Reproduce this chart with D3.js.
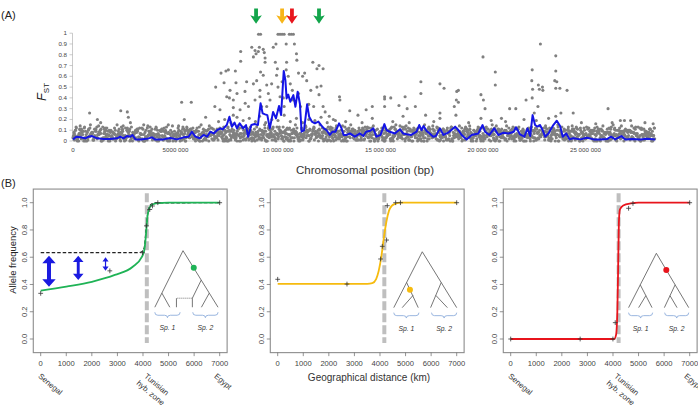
<!DOCTYPE html>
<html><head><meta charset="utf-8">
<script src="https://cdn.jsdelivr.net/npm/d3@7"></script>
<style>
body{margin:0;background:#fff}
svg{display:block}
text{font-family:"Liberation Sans",Arial,sans-serif}
</style>
</head><body>
<svg id="c" width="698" height="409"></svg>
<script>
// ================= DATA =================
// ---- Panel A ----
const chromTicks = [0, 5, 10, 15, 20, 25]; // Mb
const chromTickLabels = ["0", "5000 000", "10 000 000", "15 000 000", "20 000 000", "25 000 000"];
const fstTicks = [0, 0.1, 0.2, 0.3, 0.4, 0.5, 0.6, 0.7, 0.8, 0.9, 1];
const fstTickLabels = ["0", "0.1", "0.2", "0.3", "0.4", "0.5", "0.6", "0.7", "0.8", "0.9", "1"];

// dense background band of SNP Fst values (hundredths, hex digit per 0.1 Mb window)
const bandRowA = "3517290846 1938274605 7261943850 2847103695 6039182745 1748206359 9305714862 4682039157 0571839264 8213947560 5940261738 3168502974 7429018653 2053876419 6817349025 9134702586 4706158392 0382964715 5827013496 1695837240 7241560983 3958240617 8062471359 4513896072 2790314685 6347908152 0184725936 9528163047 4872059631";
const bandRowB = "5a2b8041c7 396a1b5082 c47093a615 8b2603c947 1a5b930286 7c014a8b53 2938a60c14 b57029a381 6c4a1b8025 93a70c5b16 4829b03a7c 152c806b94 a3071b58c2 6490a3b718 5c2b906a43 8a157c0b29 36b4a0c812 7095b3a6c1 48a2c07b53 91b6038ac4 2c75a19b06 3a84b2c519 06c7a3b248 9b15c06a72 4a39b8201c 7c52a6b093 18b4c0a765 2a93b71c48 6b05c2a913";
const bandRowC = "8d5e9c6af7 b4e7d9c5a8 6fb8e5c9d7 a9c6f4e8b5 d7a5c8f6e9 5e9b7d4ac8 c6f8a5e7b9 9b4d8c6fa5 e7c5a9d8b6 6a8f5e4c9d b9d7c6a8f4 4c6e9b5d7a f8a4d7c6e9 7e5b8f9a4c a7d9c5e6b8 5c8a6d4f9e d6e4b9a7c5 8f7c5e6d9a b5a9d8c4e7 6d8e7a5b9c c9b5f6e8a4 9e6a4c7d5b 7a4d9b8e6c e8c6a5f4d9 5b9e8d6c7a d4a7c9b5e8 8c6f5a7e9b a9e8d4c6b5 6b5c7e9a8d";
const bandRowD = "1305620471 4260173542 0637214056 3172045613 6024517302 2516043720 4071356214 1736205437 5042716301 2651037426 7204153062 0463527140 3517602435 6120473516 1754032607 4036215743 2671405312 5302764105 0415236740 7243150624 3560712043 1027456320 6345012576 4712630451 2054376102 5631207436 0726143502 3147520617 6502341075";
const bandRowE = "4a07b29358 1b6803a924 7295b04a18 3a06b81952 b4291a7036 0857b3a942 a16029b574 38b5a01962 9047ab2318 5b3906a147 2a847b0395 0719a53b68 b38264a019 4605b9a271 1a9738b042 8306a15b97 5b2914a608 a07b5392a4 3918a06b25 7b4a2059a1 0a68b3194b 9257a04b13 64b0a92857 1830b7a592 a57196b034 2b9a0583a7 7014b6a29a 4a82053b19 8365a0b142";
const bandRowF = "7c4a9d3b68 5d8b3c6a92 a47d5c9b36 8b3c6a5d74 c69b4d8a35 3a7d9c6b48 9d5b3a7c68 6c8a4d9b53 b3d7c5a86d 4a9c6b8d37 d58a3c7b96 7b4d9a6c35 5c9b7d3a86 a6d4c8b95a 3b8d6c9a47 c7a5b3d86a 8d3c9a6b57 6a9d7b4c83 b4c8d5a69c 9c6b3a8d54 5d7a9c4b86 a8c5d6b39a 4b9d3c7a68 c5a8b6d94b 7d3b9c5a86 3c8a6d9b47 b6d5a3c98a 8a4c7d5b69 5b9c4a8d36";

// higher Fst SNPs [Mb, Fst]
const outliers = [
 [0.81,0.26],[1.19,0.2],[1.35,0.17],[2.33,0.28],[2.65,0.27],[2.7,0.22],[2.8,0.17],[5.3,0.36],[5.43,0.2],[5.77,0.36],
 [6.47,0.22],[6.96,0.5],[7.22,0.63],[7.46,0.65],[7.58,0.66],[7.37,0.54],[7.66,0.47],[7.5,0.41],[7.63,0.4],[7.82,0.38],
 [7.82,0.31],[7.92,0.65],[7.95,0.54],[8.0,0.44],[8.18,0.74],[8.18,0.83],[8.39,0.46],[8.47,0.55],[8.72,0.87],[8.8,0.78],
 [8.88,0.84],[8.93,0.81],[9.04,0.83],[9.09,0.87],[9.28,0.85],[9.33,0.82],[9.37,0.77],[9.37,0.73],[9.15,0.64],[9.28,0.61],
 [8.8,0.53],[8.96,0.56],[9.12,0.47],[9.12,0.41],[8.88,0.38],[9.45,0.52],[9.53,0.44],[9.69,0.53],[9.77,0.87],[9.9,0.9],
 [9.87,0.73],[9.97,0.67],[9.93,0.61],[10.0,0.5],[10.1,0.41],[10.2,0.55],[10.4,0.9],[10.42,0.73],[10.4,0.66],[10.5,0.6],
 [10.6,0.53],[10.7,0.47],[10.8,0.9],[10.9,0.81],[10.92,0.75],[11.0,0.63],[11.2,0.6],[11.3,0.63],[11.4,0.56],[11.6,0.47],
 [11.7,0.73],[11.9,0.67],[12.0,0.7],[12.2,0.67],[11.9,0.5],[12.0,0.43],[12.1,0.51],[12.2,0.32],[12.3,0.27],[13.0,0.41],
 [13.02,0.38],[13.5,0.28],[10.75,0.38],[11.0,0.44],[11.1,0.32],[10.3,0.32],[10.26,0.4],[9.61,0.38],[9.45,0.32],[9.2,0.32],
 [7.82,0.24],[7.17,0.29],[6.92,0.32],[8.15,0.29],[8.4,0.35],[8.56,0.32],[11.5,0.34],[11.74,0.32],[12.5,0.23],[12.8,0.19],
 [9.05,0.99],[9.15,0.99],[10.0,0.99],[10.1,0.99],[10.2,0.99],[10.3,0.99],[10.55,0.99],[10.65,0.99],[10.75,0.99],
 [13.9,0.24],[14.3,0.29],[14.6,0.32],[14.6,0.21],[15.2,0.41],[15.2,0.39],[15.5,0.4],[15.2,0.32],[15.9,0.33],[16.2,0.41],
 [16.3,0.3],[16.1,0.23],[16.7,0.32],[16.97,0.55],[16.97,0.44],[17.2,0.24],[17.9,0.53],[18.1,0.49],[17.9,0.26],[17.9,0.21],
 [18.6,0.32],[18.7,0.38],[18.72,0.46],[18.8,0.47],[18.8,0.36],[18.68,0.24],[19.9,0.43],[20.0,0.78],[20.02,0.38],[20.1,0.3],
 [19.9,0.21],[20.6,0.64],[20.6,0.52],[20.9,0.21],[21.3,0.3],[21.6,0.3],[22.1,0.38],[22.4,0.66],[22.38,0.56],[22.42,0.48],
 [22.4,0.4],[22.5,0.26],[22.7,0.52],[22.75,0.48],[22.9,0.5],[22.92,0.47],[22.8,0.9],[22.68,0.32],[23.55,0.79],[23.55,0.65],
 [23.5,0.56],[23.6,0.55],[23.55,0.49],[23.75,0.49],[24.1,0.47],[23.55,0.23],[23.8,0.26],[24.4,0.26],[26.1,0.3],[26.7,0.19],
 [26.9,0.19],[27.2,0.19],[27.9,0.17],[28.3,0.16],
 [7.1,0.18],[7.4,0.2],[7.7,0.17],[8.0,0.22],[8.3,0.19],[8.6,0.21],[8.9,0.18],[9.1,0.23],[9.4,0.17],[9.7,0.2],
 [10.0,0.19],[10.3,0.24],[10.6,0.18],[10.9,0.21],[11.2,0.17],[11.5,0.2],[11.8,0.19],[12.1,0.22],[12.4,0.17],[12.7,0.2],
 [13.3,0.18],[14.1,0.17],[15.6,0.18],[16.4,0.17],[17.6,0.18],[19.3,0.17],[20.4,0.19],[21.1,0.18],[22.0,0.2],[22.6,0.19],
 [23.2,0.21],[24.8,0.17],[25.5,0.16],[26.3,0.17]
];

// sliding-window mean Fst [Mb, Fst]
const smoothFst = [
 [0,0.015],[0.16,0.04],[0.36,0.034],[0.6,0.025],[0.76,0.04],[0.93,0.046],[1.17,0.025],[1.5,0.018],[1.8,0.018],[2.15,0.025],
 [2.3,0.04],[2.46,0.025],[2.63,0.046],[2.8,0.04],[2.9,0.056],[3.05,0.015],[3.3,0.015],[3.6,0.02],[3.85,0.034],[4.0,0.015],
 [4.4,0.015],[4.75,0.028],[5.07,0.015],[5.4,0.034],[5.64,0.04],[5.8,0.086],[5.97,0.04],[6.18,0.025],[6.37,0.056],[6.54,0.04],
 [6.7,0.086],[6.86,0.07],[7.03,0.1],[7.2,0.117],[7.3,0.108],[7.5,0.148],[7.63,0.225],[7.75,0.133],[7.88,0.17],[8.0,0.117],
 [8.13,0.164],[8.3,0.117],[8.44,0.148],[8.54,0.04],[8.7,0.148],[8.86,0.157],[9.02,0.148],[9.15,0.35],[9.25,0.256],[9.37,0.247],
 [9.48,0.24],[9.6,0.117],[9.76,0.27],[9.9,0.21],[10.05,0.324],[10.15,0.24],[10.28,0.65],[10.36,0.565],[10.42,0.395],[10.5,0.43],
 [10.6,0.364],[10.75,0.426],[10.85,0.318],[10.96,0.457],[11.07,0.343],[11.15,0.086],[11.27,0.1],[11.42,0.34],[11.52,0.225],[11.65,0.18],
 [11.8,0.164],[11.97,0.18],[12.1,0.148],[12.24,0.117],[12.37,0.1],[12.53,0.056],[12.66,0.086],[12.8,0.086],[12.98,0.164],[13.1,0.117],
 [13.2,0.056],[13.35,0.056],[13.51,0.07],[13.75,0.04],[14.0,0.07],[14.16,0.046],[14.3,0.086],[14.5,0.095],[14.65,0.117],[14.8,0.04],
 [15.0,0.056],[15.19,0.157],[15.3,0.1],[15.46,0.086],[15.7,0.07],[15.95,0.11],[16.1,0.07],[16.28,0.062],[16.5,0.056],[16.76,0.086],
 [16.89,0.148],[17.0,0.1],[17.1,0.139],[17.25,0.093],[17.4,0.07],[17.57,0.04],[17.7,0.046],[17.9,0.117],[18.07,0.056],[18.3,0.077],
 [18.64,0.133],[18.8,0.1],[18.96,0.056],[19.2,0.015],[19.45,0.056],[19.77,0.07],[19.98,0.148],[20.1,0.086],[20.31,0.056],[20.55,0.117],
 [20.75,0.056],[21.0,0.077],[21.24,0.07],[21.5,0.086],[21.61,0.127],[21.8,0.062],[22.02,0.04],[22.17,0.117],[22.3,0.046],[22.42,0.24],
 [22.54,0.148],[22.65,0.133],[22.78,0.148],[22.91,0.1],[23.03,0.04],[23.19,0.07],[23.43,0.148],[23.6,0.188],[23.76,0.139],[23.89,0.04],
 [24.06,0.07],[24.22,0.015],[24.4,0.025],[24.75,0.015],[25.07,0.03],[25.4,0.015],[25.7,0.015],[26.05,0.018],[26.24,0.04],[26.45,0.015],
 [26.75,0.046],[26.94,0.015],[27.27,0.018],[27.67,0.015],[28.0,0.02],[28.4,0.015]
];

// candidate loci (arrows), Mb
const lociPos = [8.93, 10.2, 10.68, 12.0];
const lociColor = ["#13a54b", "#f7b519", "#e8161d", "#13a54b"];

// ---- Panel B ----
const kmTicks = [0, 1000, 2000, 3000, 4000, 5000, 6000, 7000];
const freqTicks = [0, 0.2, 0.4, 0.6, 0.8, 1.0];
const freqTickLabels = ["0.0", "0.2", "0.4", "0.6", "0.8", "1.0"];

const greenCline = [[0,0.355],[1000,0.385],[2000,0.42],[2900,0.47],[3600,0.53],[3950,0.6],[4050,0.65],[4110,0.75],[4175,0.9],[4290,0.975],[4500,0.995],[5000,1],[7000,1]];
const neutralCline = [[0,0.633],[3800,0.633],[3950,0.64],[4050,0.67],[4110,0.78],[4200,0.94],[4300,0.985],[4450,0.998],[7000,1]];
const greenObs = [[0,0.335],[2704,0.5],[3980,0.633],[4135,0.83],[4265,0.95],[4370,0.976],[4580,1],[7000,1]];
const diffArrows = [[324,0.384,0.61],[1468,0.433,0.61],[2535,0.5,0.6]];

const yellowCline = [[0,0.405],[3500,0.405],[3700,0.41],[3850,0.44],[3950,0.5],[4050,0.6],[4150,0.74],[4250,0.86],[4350,0.94],[4450,0.975],[4600,0.993],[4800,1],[7000,1]];
const yellowObs = [[0,0.438],[2709,0.403],[4024,0.587],[4090,0.68],[4258,0.726],[4285,0.978],[4613,1],[4801,1],[7000,1]];

const redCline = [[0,0],[4050,0],[4120,0.03],[4170,0.2],[4200,0.5],[4230,0.85],[4270,0.95],[4400,0.98],[4700,0.995],[5000,1],[7000,1]];
const redObs = [[0,0],[2716,0],[3998,0],[4088,0.12],[4610,0.959],[4781,0.995],[7000,1]];

const hybZoneKm = [4150, 4170, 4220];
const placeNames = [["Senegal"], ["Tunisian", "hyb. zone"], ["Egypt"]];
const placeKm = [0, 4150, 7000];

// inset trees: normalised segments [u0,v0,u1,v1]
const tree1 = [[0.446,0,0,1],[0.446,0,1,1],[0.112,0.75,0.237,1],[0.734,0.52,0.594,0.84],[0.594,0.84,0.594,1],[0.861,0.75,0.737,1],[0.342,0.84,0.342,1]];
const tree1Dotted = [[0.594,0.84,0.342,0.84]];
const tree1Dot = [0.616, 0.3];
const tree2 = [[0.453,0,0,1],[0.453,0,1,1],[0.204,0.55,0.389,1],[0.307,0.78,0.134,1],[0.754,0.55,0.585,1],[0.668,0.78,0.852,1]];
const tree2Dot = [0.257, 0.68];
const tree3 = [[0.462,0,0,1],[0.462,0,1,1],[0.194,0.58,0.39,1],[0.287,0.78,0.167,1],[0.774,0.58,0.595,1],[0.689,0.78,0.806,1]];
const tree3Dot = [0.627, 0.307];
const speciesLabels = ["Sp. 1", "Sp. 2"];
const speciesSpan = [[0, 0.4], [0.6, 1.0]];

// ================= DRAW =================
const svg = d3.select("#c");

// ---- Panel A ----
const xA = d3.scaleLinear().domain([0, 25]).range([73, 585.5]);
const yA = d3.scaleLinear().domain([0, 1]).range([141, 33.2]);

svg.append("text").attr("x", 1).attr("y", 19).attr("font-size", 11).attr("fill", "#222").text("(A)");
svg.append("text").attr("x", 1).attr("y", 187).attr("font-size", 11).attr("fill", "#222").text("(B)");

const gA = svg.append("g");
gA.append("line").attr("x1", xA(0)).attr("x2", xA(28.4)).attr("y1", yA(0)).attr("y2", yA(0)).attr("stroke", "#bdbdbd").attr("stroke-width", 0.8);
gA.append("line").attr("x1", 72.5).attr("x2", 72.5).attr("y1", yA(0)).attr("y2", yA(1)).attr("stroke", "#bdbdbd").attr("stroke-width", 0.8);
fstTicks.forEach((t, i) => {
  gA.append("line").attr("x1", 69.5).attr("x2", 72.5).attr("y1", yA(t)).attr("y2", yA(t)).attr("stroke", "#aaa").attr("stroke-width", 0.6);
  gA.append("text").attr("x", 67).attr("y", yA(t) + 2).attr("text-anchor", "end").attr("font-size", 6.2).attr("fill", "#444").text(fstTickLabels[i]);
});
chromTicks.forEach((t, i) => {
  gA.append("text").attr("x", xA(t)).attr("y", 152).attr("text-anchor", "middle").attr("font-size", 6.2).attr("fill", "#444").text(chromTickLabels[i]);
});
const fstLab = gA.append("text").attr("transform", "translate(46,92) rotate(-90)").attr("text-anchor", "middle").attr("fill", "#222");
fstLab.append("tspan").attr("font-size", 13).attr("font-style", "italic").text("F");
fstLab.append("tspan").attr("font-size", 8).attr("dy", 3).text("ST");
gA.append("text").attr("x", 365).attr("y", 174).attr("text-anchor", "middle").attr("font-size", 11.5).attr("fill", "#333").text("Chromosomal position (bp)");

function decodeBand(str, offset) {
  return str.replace(/\s/g, "").split("").map((c, i) => [i * 0.1 + offset, parseInt(c, 16) / 100]).filter(d => d[0] <= 28.4);
}
const band = [].concat(
  decodeBand(bandRowA, 0), decodeBand(bandRowE, 0.0125), decodeBand(bandRowB, 0.025),
  decodeBand(bandRowC, 0.05), decodeBand(bandRowF, 0.0625), decodeBand(bandRowD, 0.075));
const allPts = band.concat(outliers);
gA.append("g").selectAll("circle").data(allPts).join("circle")
  .attr("cx", d => xA(d[0])).attr("cy", d => yA(d[1])).attr("r", 1.55).attr("fill", "#808080");

gA.append("path").datum(smoothFst).attr("fill", "none").attr("stroke", "#1414e6").attr("stroke-width", 2)
  .attr("stroke-linejoin", "round")
  .attr("d", d3.line().x(d => xA(d[0])).y(d => yA(d[1])));

lociPos.forEach((p, i) => {
  const cx = xA(p);
  const pts = [[cx-1.9,8.5],[cx+1.9,8.5],[cx+1.9,16.5],[cx+5.8,15.3],[cx,23.8],[cx-5.8,15.3],[cx-1.9,16.5]];
  gA.append("polygon").attr("points", pts.map(q => q.join(",")).join(" ")).attr("fill", lociColor[i]);
});

// ---- Panel B ----
const panels = [
  {x0: 40.7, cline: greenCline, color: "#1fb356", obs: greenObs, neutral: neutralCline, arrows: diffArrows, hz: hybZoneKm[0],
   inset: [4463, 6935, 0.648, 0.233], tree: tree1, dotted: tree1Dotted, dot: tree1Dot, places: true, ylab: true},
  {x0: 277.7, cline: yellowCline, color: "#f6bb0e", obs: yellowObs, hz: hybZoneKm[1],
   inset: [4539, 7000, 0.64, 0.23], tree: tree2, dotted: [], dot: tree2Dot, xlab: true},
  {x0: 510.7, cline: redCline, color: "#e8141c", obs: redObs, hz: hybZoneKm[2],
   inset: [4610, 6962, 0.629, 0.23], tree: tree3, dotted: [], dot: tree3Dot, places: true}
];

panels.forEach(P => {
  const x = d3.scaleLinear().domain([0, 7000]).range([P.x0, P.x0 + 179]);
  const y = d3.scaleLinear().domain([0, 1]).range([339, 202.7]);
  const g = svg.append("g");
  const bx0 = x(-290), bx1 = x(7290), by0 = y(1.1), by1 = y(-0.1);
  g.append("rect").attr("x", bx0).attr("y", by0).attr("width", bx1 - bx0).attr("height", by1 - by0)
    .attr("fill", "none").attr("stroke", "#8c8c8c").attr("stroke-width", 1.1);
  kmTicks.forEach(t => {
    g.append("line").attr("x1", x(t)).attr("x2", x(t)).attr("y1", by1).attr("y2", by1 + 3.5).attr("stroke", "#666").attr("stroke-width", 0.7);
    g.append("text").attr("x", x(t)).attr("y", 365.5).attr("text-anchor", "middle").attr("font-size", 7.6).attr("fill", "#444").text(t);
  });
  freqTicks.forEach((t, i) => {
    g.append("line").attr("x1", bx0 - 3.5).attr("x2", bx0).attr("y1", y(t)).attr("y2", y(t)).attr("stroke", "#666").attr("stroke-width", 0.7);
    g.append("text").attr("transform", `translate(${bx0 - 6},${y(t)}) rotate(-90)`).attr("text-anchor", "middle")
      .attr("font-size", 7.6).attr("fill", "#444").text(freqTickLabels[i]);
  });
  g.append("line").attr("x1", x(P.hz)).attr("x2", x(P.hz)).attr("y1", y(1.07)).attr("y2", y(-0.03))
    .attr("stroke", "#bfbfbf").attr("stroke-width", 4).attr("stroke-dasharray", "9,3");
  const line = d3.line().x(d => x(d[0])).y(d => y(d[1])).curve(d3.curveMonotoneX);
  if (P.neutral) {
    g.append("path").datum(P.neutral).attr("fill", "none").attr("stroke", "#222").attr("stroke-width", 1.2)
      .attr("stroke-dasharray", "3.5,2").attr("d", line);
  }
  g.append("path").datum(P.cline).attr("fill", "none").attr("stroke", P.color).attr("stroke-width", 1.8).attr("d", line);
  g.selectAll(".obs").data(P.obs).join("path")
    .attr("d", d => `M${x(d[0]) - 2.4},${y(d[1])}h4.8M${x(d[0])},${y(d[1]) - 2.4}v4.8`)
    .attr("stroke", "#333").attr("stroke-width", 0.8);
  if (P.arrows) {
    const wScale = d3.scaleLinear().domain([0.1, 0.226]).range([1.2, 4]);
    P.arrows.forEach(a => {
      const cx = x(a[0]), ya = y(a[2]), yb = y(a[1]);
      const w = wScale(a[2] - a[1]), hw = w * 1.3 + 1.5, hl = w * 1.1 + 3;
      const pts = [[cx, ya], [cx + hw, ya + hl], [cx + w / 2, ya + hl], [cx + w / 2, yb - hl], [cx + hw, yb - hl], [cx, yb],
                   [cx - hw, yb - hl], [cx - w / 2, yb - hl], [cx - w / 2, ya + hl], [cx - hw, ya + hl]];
      g.append("polygon").attr("points", pts.map(q => q.join(",")).join(" ")).attr("fill", "#1a1ae0");
    });
  }
  const tx = d3.scaleLinear().domain([0, 1]).range([x(P.inset[0]), x(P.inset[1])]);
  const ty = d3.scaleLinear().domain([0, 1]).range([y(P.inset[2]), y(P.inset[3])]);
  g.selectAll(".seg").data(P.tree).join("line")
    .attr("x1", d => tx(d[0])).attr("y1", d => ty(d[1])).attr("x2", d => tx(d[2])).attr("y2", d => ty(d[3]))
    .attr("stroke", "#666").attr("stroke-width", 0.9);
  g.selectAll(".dseg").data(P.dotted).join("line")
    .attr("x1", d => tx(d[0])).attr("y1", d => ty(d[1])).attr("x2", d => tx(d[2])).attr("y2", d => ty(d[3]))
    .attr("stroke", "#666").attr("stroke-width", 0.9).attr("stroke-dasharray", "1,1");
  g.append("circle").attr("cx", tx(P.dot[0])).attr("cy", ty(P.dot[1])).attr("r", 3).attr("fill", P.color);
  speciesSpan.forEach((s, i) => {
    const a = tx(s[0]), b = tx(s[1]), m = (a + b) / 2, yb = ty(1) + 5, h = 3;
    g.append("path").attr("d", `M${a},${yb} Q${a},${yb + h} ${a + 3},${yb + h} L${m - 3},${yb + h} Q${m},${yb + h} ${m},${yb + h * 1.8} Q${m},${yb + h} ${m + 3},${yb + h} L${b - 3},${yb + h} Q${b},${yb + h} ${b},${yb}`)
      .attr("fill", "none").attr("stroke", "#8eaedb").attr("stroke-width", 0.9);
    g.append("text").attr("x", m).attr("y", yb + 18).attr("text-anchor", "middle").attr("font-size", 6.8)
      .attr("font-style", "italic").attr("fill", "#333").text(speciesLabels[i]);
  });
  if (P.places) {
    placeNames.forEach((nm, i) => {
      const dx = i === 2 ? -6 : -3;
      const t = g.append("text").attr("transform", `translate(${x(placeKm[i]) + dx},377) rotate(40)`).attr("font-size", 7.8).attr("fill", "#333");
      nm.forEach((s, j) => t.append("tspan").attr("x", j === 0 ? 0 : -1.5).attr("dy", j === 0 ? 0 : 10.5).text(s));
    });
  }
  if (P.ylab) {
    g.append("text").attr("transform", "translate(16,260) rotate(-90)").attr("text-anchor", "middle").attr("font-size", 9.5).attr("fill", "#222").text("Allele frequency");
  }
  if (P.xlab) {
    g.append("text").attr("x", 369).attr("y", 381).attr("text-anchor", "middle").attr("font-size", 10).attr("fill", "#333").text("Geographical distance (km)");
  }
});
</script>
</body></html>
